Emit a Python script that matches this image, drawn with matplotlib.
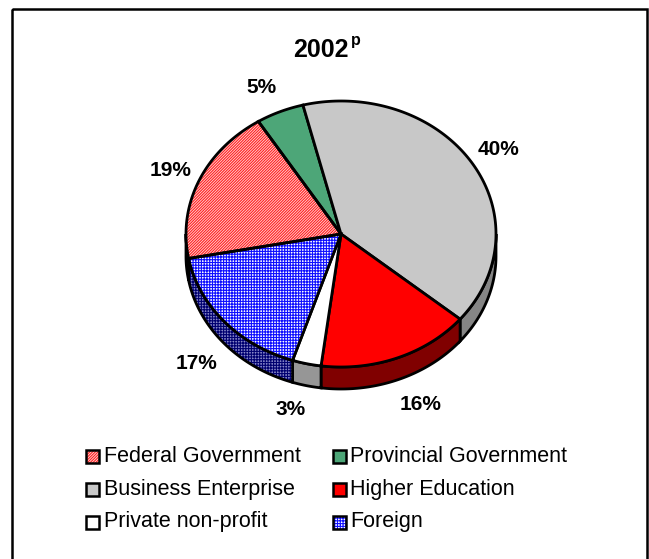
import numpy as np
import matplotlib
matplotlib.use("Agg")
import matplotlib.pyplot as plt
from matplotlib.patches import Polygon, Rectangle

# ---------------- data ----------------
categories = ["Federal Government", "Provincial Government", "Business Enterprise",
              "Higher Education", "Private non-profit", "Foreign"]
values = [19, 5, 40, 16, 3, 17]
labels = ["19%", "5%", "40%", "16%", "3%", "17%"]
title_main = "2002"
title_sup = "p"

# ---------------- style ----------------
top_face = ["#FFD8D8", "#4DA678", "#C8C8C8", "#FF0000", "white", "white"]
top_hatch = ["/" * 12, None, None, None, None, "++++++"]
top_hatch_col = ["#FF2020", None, None, None, None, "#1010FF"]
side_face = ["#B06060", "#2E6E4E", "#858585", "#800000", "#969696", "#8888C8"]
side_hatch = [None, None, None, None, None, "++++++"]
side_hatch_col = [None, None, None, None, None, "#000070"]
label_nudge = [(0, 0), (-6, 0), (0, 1), (12, 0), (-9, -2), (-5, 2)]

plt.rcParams["font.family"] = ["Liberation Sans", "DejaVu Sans"]
plt.rcParams["hatch.linewidth"] = 0.8

W, H = 649, 559
fig = plt.figure(figsize=(W / 100, H / 100), dpi=100)
ax = fig.add_axes([0, 0, 1, 1])
ax.set_xlim(0, W)
ax.set_ylim(H, 0)
ax.axis("off")

# outer frame
ax.add_patch(Rectangle((12, 8.5), 635, 560, fill=False, ec="black", lw=1.8, zorder=10))

cx, cy, rx, ry, depth = 341, 234, 155, 133, 22
start = 190.6  # degrees, slices run clockwise


def pts(t1, t2, dy=0.0, n=120):
    ts = np.radians(np.linspace(t1, t2, n))
    return np.column_stack([cx + rx * np.cos(ts), cy - ry * np.sin(ts) + dy])


def add_poly(xy, face, hatch, hcol, z):
    if hatch:
        ax.add_patch(Polygon(xy, closed=True, fc=face, ec=hcol, hatch=hatch, lw=0, zorder=z))
        ax.add_patch(Polygon(xy, closed=True, fill=False, ec="black", lw=2, zorder=z + 0.1))
    else:
        ax.add_patch(Polygon(xy, closed=True, fc=face, ec="black", lw=2, zorder=z))


total = float(sum(values))
angles = []
a = start
for v in values:
    b = a - 360.0 * v / total
    angles.append((a, b))
    a = b

# sides (front half only)
for i, (a, b) in enumerate(angles):
    for shift in (0, -360, 360):
        hi, lo = a + shift, b + shift
        s_hi, s_lo = min(hi, 0), max(lo, -180)
        if s_hi > s_lo:
            top = pts(s_hi, s_lo)
            bot = pts(s_lo, s_hi, dy=depth)
            add_poly(np.vstack([top, bot]), side_face[i], side_hatch[i], side_hatch_col[i], 2)

# top faces
for i, (a, b) in enumerate(angles):
    xy = np.vstack([[cx, cy], pts(a, b)])
    add_poly(xy, top_face[i], top_hatch[i], top_hatch_col[i], 4)

# data labels
for i, (a, b) in enumerate(angles):
    m = np.radians((a + b) / 2)
    lx = cx + 1.2 * rx * np.cos(m) + label_nudge[i][0]
    ly = cy - 1.2 * ry * np.sin(m) + label_nudge[i][1]
    if np.sin(m) < 0:
        ly += depth
    ax.text(lx, ly, labels[i], ha="center", va="center", fontsize=15,
            fontweight="bold", zorder=6)

# title
ax.text(349, 57, title_main, ha="right", va="baseline", fontsize=18, fontweight="bold")
ax.text(350.5, 45, title_sup, ha="left", va="baseline", fontsize=11.5, fontweight="bold")

# legend
leg_x = [86, 333]
leg_y = [456, 489, 522]
for i, name in enumerate(categories):
    col, row = i % 2, i // 2
    x0, y0 = leg_x[col], leg_y[row]
    if top_hatch[i]:
        ax.add_patch(Rectangle((x0, y0 - 6.5), 13, 13, fc=top_face[i], ec=top_hatch_col[i],
                               hatch=top_hatch[i], lw=0, zorder=5))
        ax.add_patch(Rectangle((x0, y0 - 6.5), 13, 13, fill=False, ec="black", lw=1.8, zorder=5.1))
    else:
        ax.add_patch(Rectangle((x0, y0 - 6.5), 13, 13, fc=top_face[i], ec="black", lw=1.8, zorder=5))
    ax.text(x0 + 17.5, y0, name, ha="left", va="center", fontsize=15.5, zorder=6)

fig.savefig("out.png", dpi=100)
